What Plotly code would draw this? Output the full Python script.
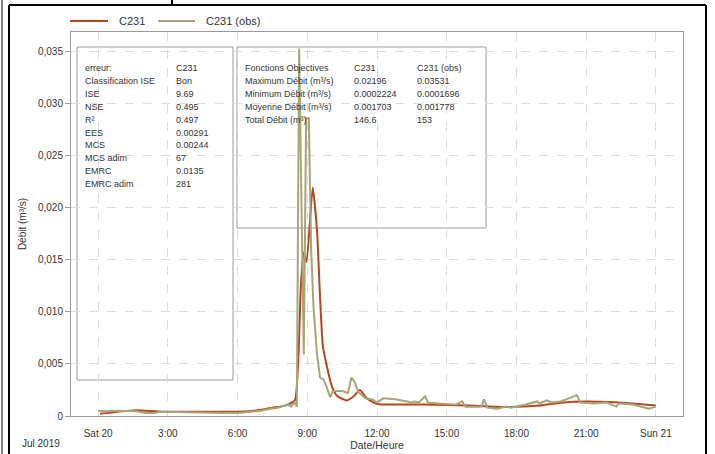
import pandas as pd
import plotly.graph_objects as go

# Simulated (C231) and observed (C231 (obs)) flow, 20 July 2019
sim_time = ["00:05", "00:30", "01:00", "01:20", "01:40", "02:00", "02:30", "03:00", "04:00",
            "05:00", "06:00", "06:30", "07:00", "07:30", "07:50", "08:10", "08:28", "08:43",
            "08:50", "08:58", "09:14", "09:25", "09:33", "09:40", "09:51", "10:04", "10:18",
            "10:42", "11:00", "11:16", "11:33", "12:00", "13:00", "14:00", "15:00", "16:00",
            "17:00", "18:00", "19:00", "20:00", "21:00", "22:00", "23:00", "24:00"]
sim_flow = [0.00022, 0.0003, 0.00045, 0.0005, 0.00055, 0.0005, 0.00045, 0.0004, 0.0004,
            0.0004, 0.0004, 0.00045, 0.0006, 0.0008, 0.0009, 0.0011, 0.0015, 0.0121,
            0.0157, 0.0148, 0.02196, 0.0179, 0.0114, 0.0068, 0.0047, 0.0028, 0.0019,
            0.0015, 0.0019, 0.0025, 0.0017, 0.00115, 0.0011, 0.0011, 0.00105, 0.001,
            0.0009, 0.00088, 0.001, 0.0013, 0.0014, 0.00135, 0.0012, 0.001]

obs_time = ["00:00", "00:20", "00:50", "01:20", "01:40", "02:00", "02:25", "02:40", "03:00",
            "03:30", "04:00", "04:30", "05:00", "05:30", "06:00", "06:30", "07:00", "07:25",
            "07:45", "08:00", "08:10", "08:18", "08:27", "08:33", "08:39", "08:51", "08:57",
            "09:04", "09:10", "09:16", "09:25", "09:33", "09:42", "09:50", "09:59", "10:06",
            "10:30", "10:45", "10:54", "11:03", "11:12", "11:30", "11:48", "12:00", "12:16",
            "12:48", "13:06", "13:30", "13:36", "13:48", "14:04", "14:12", "14:39", "15:24",
            "15:40", "15:48", "16:30", "16:36", "16:45", "17:10", "17:33", "17:45", "18:24",
            "18:54", "19:00", "19:18", "19:30", "19:54", "20:36", "20:45", "21:18", "21:54",
            "22:18", "22:24", "23:00", "23:30", "23:42", "24:00"]
obs_flow = [0.0005, 0.00045, 0.0005, 0.0005, 0.00045, 0.0003, 0.0003, 0.0004, 0.00038,
            0.0004, 0.00035, 0.0003, 0.0003, 0.0003, 0.0003, 0.0004, 0.0005, 0.0007,
            0.0008, 0.001, 0.0011, 0.0009, 0.0013, 0.0009, 0.03531, 0.0059, 0.0286,
            0.0286, 0.016, 0.0105, 0.006, 0.0037, 0.0035, 0.0028, 0.0018, 0.0024,
            0.0024, 0.0022, 0.0037, 0.0032, 0.0023, 0.0017, 0.0016, 0.0013, 0.0017,
            0.0016, 0.0015, 0.0013, 0.0014, 0.0013, 0.0019, 0.0013, 0.0012, 0.0011,
            0.0014, 0.0009, 0.0009, 0.0016, 0.0008, 0.0007, 0.0009, 0.0008, 0.0011,
            0.0014, 0.0012, 0.0015, 0.0013, 0.0014, 0.002, 0.0013, 0.0012, 0.0013,
            0.0009, 0.0012, 0.0011, 0.0008, 0.0007, 0.0009]

y_ticks = [0, 0.005, 0.010, 0.015, 0.020, 0.025, 0.030, 0.035]
y_ticktext = ["0", "0,005", "0,010", "0,015", "0,020", "0,025", "0,030", "0,035"]
x_ticks = ["00:00", "03:00", "06:00", "09:00", "12:00", "15:00", "18:00", "21:00", "24:00"]
x_ticktext = ["Sat 20", "3:00", "6:00", "9:00", "12:00", "15:00", "18:00", "21:00", "Sun 21"]

# statistics boxes
err_labels = ["erreur:", "Classification ISE", "ISE", "NSE", "R²", "EES", "MCS",
              "MCS adim", "EMRC", "EMRC adim"]
err_values = ["C231", "Bon", "9.69", "0.495", "0.497", "0.00291", "0.00244", "67",
              "0.0135", "281"]
obj_labels = ["Fonctions Objectives", "Maximum Débit (m³/s)", "Minimum Débit (m³/s)",
              "Moyenne Débit (m³/s)", "Total Débit (m³)"]
obj_sim = ["C231", "0.02196", "0.0002224", "0.001703", "146.6"]
obj_obs = ["C231 (obs)", "0.03531", "0.0001696", "0.001778", "153"]

series_names = ["C231", "C231 (obs)"]
series_colors = ["#b5471c", "#a7a578"]

day = pd.Timestamp("2019-07-20")
def to_dt(times):
    return [day + pd.to_timedelta(t + ":00") for t in times]

fig = go.Figure()
fig.add_trace(go.Scatter(x=to_dt(sim_time), y=sim_flow, mode="lines", name=series_names[0],
                         line=dict(color=series_colors[0], width=2, shape="spline", smoothing=0.5)))
fig.add_trace(go.Scatter(x=to_dt(obs_time), y=obs_flow, mode="lines", name=series_names[1],
                         line=dict(color=series_colors[1], width=2)))

# plot area in pixels: left 71, right 683, top 32, bottom 416
W, H = 715, 454
L, R, T, B = 71, 683, 32, 416
def px(x):
    return (x - L) / (R - L)
def py(y):
    return (B - y) / (B - T)

FONT = "Liberation Sans, Arial"
shapes = []
annotations = []

# stats boxes
for x0, y0, x1, y1 in [(77, 47, 233, 380), (237, 47, 486, 228)]:
    shapes.append(dict(type="rect", xref="paper", yref="paper", layer="between",
                       x0=px(x0), x1=px(x1), y0=py(y1), y1=py(y0),
                       fillcolor="white", line=dict(color="#9a9a9a", width=1)))
# outer window frame
frame = dict(color="black", width=2)
shapes += [
    dict(type="line", xref="paper", yref="paper", x0=px(9), x1=px(9), y0=py(5), y1=py(460), line=frame),
    dict(type="line", xref="paper", yref="paper", x0=px(2), x1=px(2), y0=py(0), y1=py(460), line=dict(color="black", width=1)),
    dict(type="line", xref="paper", yref="paper", x0=px(9), x1=px(706), y0=py(5), y1=py(5), line=frame),
    dict(type="line", xref="paper", yref="paper", x0=px(706), x1=px(706), y0=py(5), y1=py(460), line=frame),
    dict(type="line", xref="paper", yref="paper", x0=px(172), x1=px(172), y0=py(0), y1=py(5), line=frame),
]

# legend drawn at top left
for (lx0, lx1, tx), name, col in zip([(70, 108, 117), (158, 195, 204)], series_names, series_colors):
    shapes.append(dict(type="line", xref="paper", yref="paper", x0=px(lx0), x1=px(lx1),
                       y0=py(21), y1=py(21), line=dict(color=col, width=2)))
    annotations.append(dict(x=px(tx), y=py(21), xref="paper", yref="paper", text=name,
                            showarrow=False, xanchor="left", yanchor="middle",
                            font=dict(family=FONT, size=11, color="#333")))

txt = dict(family=FONT, size=9, color="#333")
for i, (lab, val) in enumerate(zip(err_labels, err_values)):
    yy = py(68 + i * 12.9)
    annotations.append(dict(x=px(83), y=yy, xref="paper", yref="paper", text=lab, showarrow=False,
                            xanchor="left", yanchor="middle", font=txt))
    annotations.append(dict(x=px(174), y=yy, xref="paper", yref="paper", text=val, showarrow=False,
                            xanchor="left", yanchor="middle", font=txt))
for i in range(len(obj_labels)):
    yy = py(68 + i * 12.9)
    for xx, col in [(243, obj_labels), (352, obj_sim), (415, obj_obs)]:
        annotations.append(dict(x=px(xx), y=yy, xref="paper", yref="paper", text=col[i],
                                showarrow=False, xanchor="left", yanchor="middle", font=txt))
annotations.append(dict(x=px(20), y=py(443), xref="paper", yref="paper", text="Jul 2019",
                        showarrow=False, xanchor="left", yanchor="middle",
                        font=dict(family=FONT, size=10, color="#333")))

fig.update_layout(
    width=W, height=H,
    margin=dict(l=L, r=W - R, t=T, b=H - B, autoexpand=False),
    plot_bgcolor="white", paper_bgcolor="white",
    font=dict(family=FONT, size=10, color="#333"),
    showlegend=False,
    shapes=shapes,
    annotations=annotations,
)
fig.update_xaxes(
    range=[day + pd.Timedelta(minutes=-70), day + pd.Timedelta(hours=25, minutes=10)],
    tickvals=to_dt(x_ticks), ticktext=x_ticktext, automargin=False,
    ticks="outside", ticklen=8, tickcolor="rgba(0,0,0,0)",
    showgrid=True, gridcolor="#dcdcdc", griddash="dash",
    showline=True, linecolor="#9a9a9a", mirror=True, zeroline=False,
    title=dict(text="Date/Heure", standoff=1, font=dict(size=10.5)),
)
fig.update_yaxes(
    range=[0, 0.0369], automargin=False,
    tickvals=y_ticks, ticktext=y_ticktext,
    ticks="outside", ticklen=5, tickcolor="#9a9a9a",
    showgrid=True, gridcolor="#dcdcdc", griddash="dash",
    showline=True, linecolor="#9a9a9a", mirror=True, zeroline=False,
    title=dict(text="Débit (m³/s)", standoff=9, font=dict(size=10)),
)

# page has a default 8px body margin; drop it so the figure fills the window
fig.write_html("out.html", post_script="document.body.style.margin='0';",
               config={"displayModeBar": False})
